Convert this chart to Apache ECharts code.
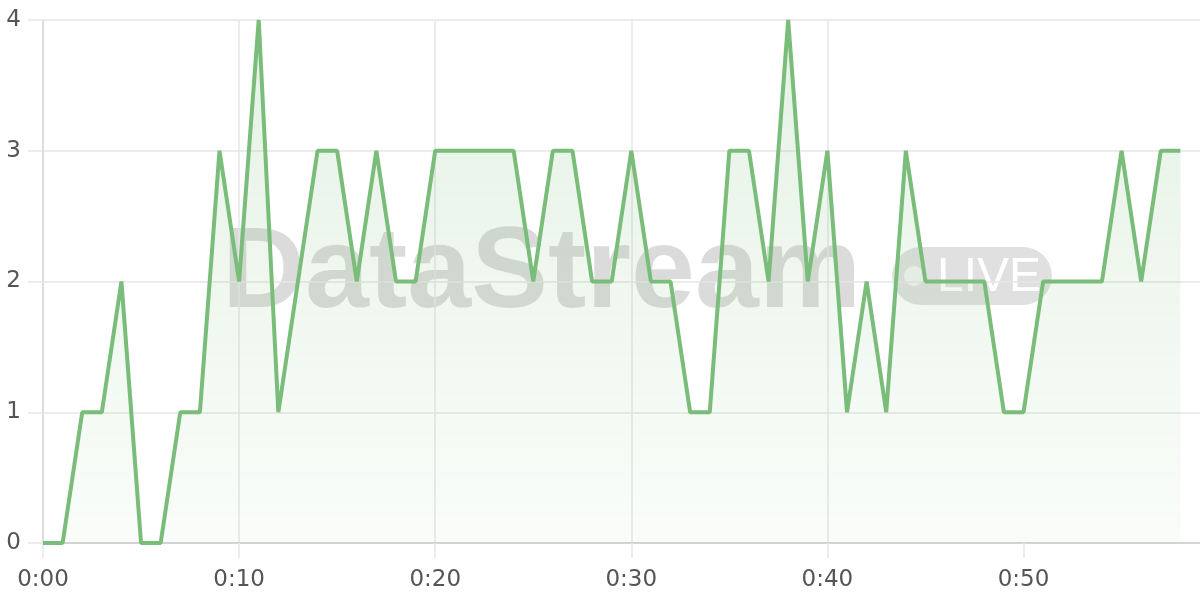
<!DOCTYPE html>
<html><head><meta charset="utf-8">
<script src="https://cdn.jsdelivr.net/npm/echarts@6/dist/echarts.min.js"></script>
<style>html,body{margin:0;padding:0;background:#fff;overflow:hidden}#c{width:1200px;height:600px}</style>
</head><body><div id="c"></div>
<script>
const minutes = [0,1,2,3,4,5,6,7,8,9,10,11,12,13,14,15,16,17,18,19,20,21,22,23,24,25,26,27,28,29,30,31,32,33,34,35,36,37,38,39,40,41,42,43,44,45,46,47,48,49,50,51,52,53,54,55,56,57,58];
const values  = [0,0,1,1,2,0,0,1,1,3,2,4,1,2,3,3,2,3,2,2,3,3,3,3,3,2,3,3,2,2,3,2,2,1,1,3,3,2,4,2,3,1,2,1,3,2,2,2,2,1,1,2,2,2,2,3,2,3,3];
const xTicks = [0,10,20,30,40,50];
const xTickLabels = ['0:00','0:10','0:20','0:30','0:40','0:50'];
const yTicks = [0,1,2,3,4];
const watermarkText = 'DataStream';
const badgeText = 'LIVE';

const chart = echarts.init(document.getElementById('c'));
const fontFam = 'DejaVu Sans, sans-serif';
chart.setOption({
  animation: false,
  grid: {left: 43, right: 0, top: 20, bottom: 57, outerBoundsMode: 'none', containLabel: false},
  graphic: [
    {type:'text', z: 0, left: 222, top: 218, style:{text: watermarkText, font:'bold 115px "Liberation Sans", Arial, sans-serif', fill:'rgba(0,0,0,0.14)'}},
    {type:'rect', z: 0, shape:{x:892, y:247, width:160, height:58, r:29}, style:{fill:'rgba(0,0,0,0.12)'}},
    {type:'circle', z: 0, shape:{cx:914, cy:276, r:10}, style:{fill:'rgba(255,255,255,0.6)'}},
    {type:'text', z: 0, left: 937, top: 254, style:{text: badgeText, font:'48px "Liberation Sans", Arial, sans-serif', fill:'#ffffff'}}
  ],
  xAxis: {
    type: 'value', min: 0, max: 59,
    axisLine: {show: true, lineStyle: {color: '#cccccc', width: 1.5}},
    axisTick: {show: true, length: 15, customValues: xTicks, lineStyle: {color: '#e6e6e6', width: 1.5}},
    splitLine: {show: true, showMaxLine: false, lineStyle: {color: '#e6e6e6', width: 1.5}},
    axisLabel: {
      color: '#555', fontSize: 23, fontFamily: fontFam, margin: 26, customValues: xTicks,
      formatter: v => xTickLabels[xTicks.indexOf(v)] || ''
    }
  },
  yAxis: {
    type: 'value', min: yTicks[0], max: yTicks[yTicks.length-1], interval: 1,
    axisLine: {show: true, lineStyle: {color: '#d9d9d9', width: 1.5}},
    axisTick: {show: true, length: 15, lineStyle: {color: '#e6e6e6', width: 1.5}},
    splitLine: {show: true, lineStyle: {color: '#e6e6e6', width: 1.5}},
    axisLabel: {color: '#555', fontSize: 23, fontFamily: fontFam, margin: 22}
  },
  series: [{
    type: 'line', z: 3,
    data: minutes.map((m,i)=>[m, values[i]]),
    showSymbol: false, symbol: 'none',
    lineStyle: {color: '#7abd7a', width: 4},
    itemStyle: {color: '#7abd7a'},
    areaStyle: {color: new echarts.graphic.LinearGradient(0,0,0,1,[
      {offset:0, color:'rgba(122,189,122,0.28)'},
      {offset:1, color:'rgba(122,189,122,0.06)'}
    ])}
  }]
});
</script></body></html>
